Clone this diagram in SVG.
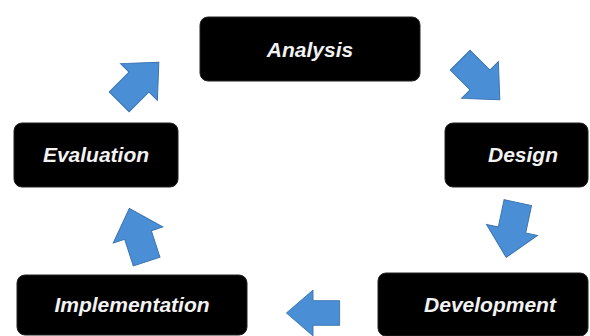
<svg xmlns="http://www.w3.org/2000/svg" width="590" height="336" viewBox="0 0 590 336">
<style>
.box{fill:#000;stroke:#222;stroke-width:1}
.lbl{font-family:"Liberation Sans",Arial,sans-serif;font-style:italic;font-weight:bold;font-size:21px;fill:#f2f2f2;text-anchor:middle}
.arr{fill:#4a8fd6;stroke:#3c74b0;stroke-width:1}
</style>
<defs>
<polygon id="blk" points="-28,-14 0,-14 0,-26 28,0 0,26 0,14 -28,14"/>
</defs>
<rect x="0" y="0" width="590" height="336" fill="#fff"/>
<g id="analysis"><rect class="box" x="200" y="17" width="220" height="64" rx="8"/><text class="lbl" x="310" y="57">Analysis</text></g>
<g id="design"><rect class="box" x="445" y="123" width="143" height="64" rx="8"/><text class="lbl" x="523" y="162">Design</text></g>
<g id="development"><rect class="box" x="378" y="273" width="210" height="63" rx="8"/><text class="lbl" x="490" y="312">Development</text></g>
<g id="implementation"><rect class="box" x="17" y="275" width="230" height="60" rx="8"/><text class="lbl" x="132" y="312">Implementation</text></g>
<g id="evaluation"><rect class="box" x="14" y="123" width="164" height="64" rx="8"/><text class="lbl" x="96" y="162">Evaluation</text></g>
<g id="connectors">
<use href="#blk" class="arr" transform="translate(480,80) rotate(45)"/>
<use href="#blk" class="arr" transform="translate(512,230) rotate(102)"/>
<use href="#blk" class="arr" transform="translate(313,313) rotate(180) scale(0.95,0.88)"/>
<use href="#blk" class="arr" transform="translate(138,235) rotate(-108)"/>
<use href="#blk" class="arr" transform="translate(139,82) rotate(-45)"/>
</g>
</svg>
